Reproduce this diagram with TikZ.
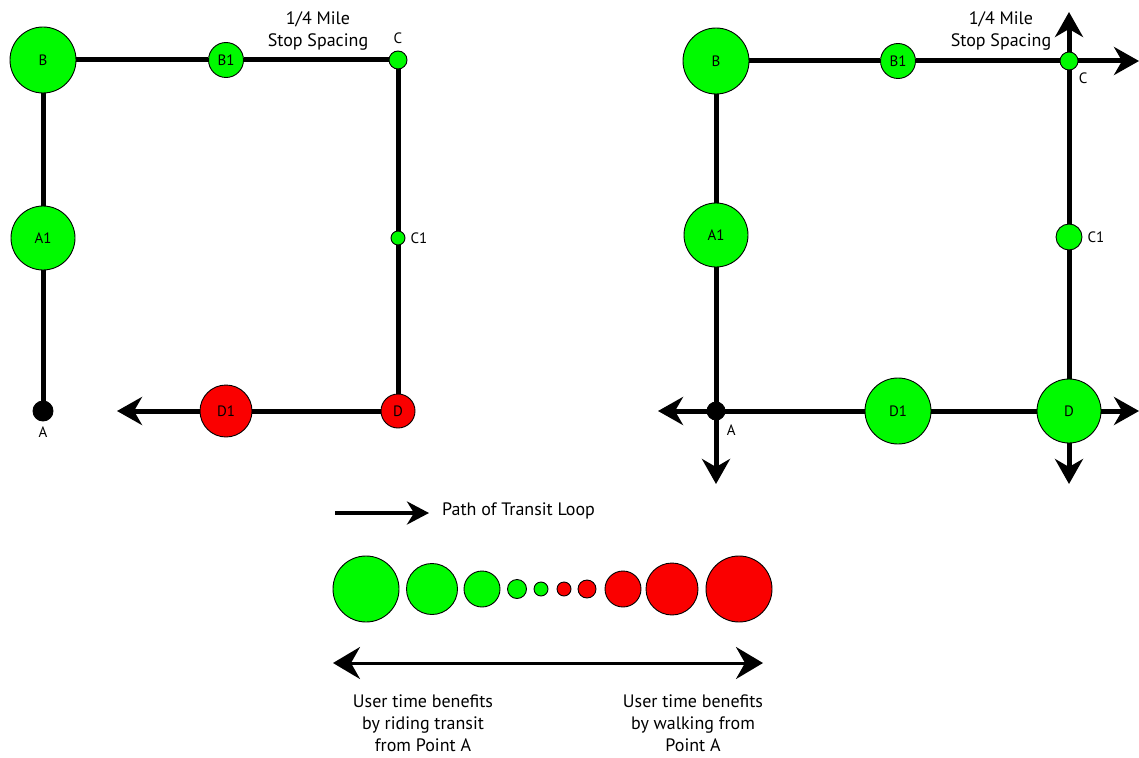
\documentclass[tikz,border=0pt]{standalone}
\usepackage{fontspec}
\setmainfont{PT Sans}
\usetikzlibrary{arrows.meta,positioning}
\definecolor{stopgreen}{RGB}{0,250,0}
\definecolor{stopred}{RGB}{250,0,0}
\tikzset{
  busstop/.style={circle,draw=black,line width=0.9pt,inner sep=0pt,minimum size=#1,
    font=\fontsize{15}{17}\selectfont},
  route/.style={line width=5pt},
  loop/.style={route,-{Stealth[length=25pt,width=28pt,inset=8pt]}},
  lbl/.style={font=\fontsize{15}{17}\selectfont,inner sep=1pt},
  note/.style={font=\fontsize{18}{22}\selectfont,align=center,inner sep=0pt}
}
\begin{document}
\begin{tikzpicture}[x=1pt,y=-1pt]
\useasboundingbox (0,0) rectangle (1139,757);

% left loop
\node[busstop=66pt,fill=stopgreen] (lB) at (43,60) {B};
\node[busstop=35pt,fill=stopgreen] (lB1) at (226,60) {B1};
\node[busstop=18pt,fill=stopgreen] (lC) at (398,60) {};
\node[busstop=64pt,fill=stopgreen] (lA1) at (43,238) {A1};
\node[busstop=14pt,fill=stopgreen] (lC1) at (398,238) {};
\node[busstop=34pt,fill=stopred] (lD) at (398,411) {D};
\node[busstop=52pt,fill=stopred] (lD1) at (226,411) {D1};
\node[busstop=20pt,fill=black] (lA) at (43,411) {};
\coordinate (lend) at (117,411);
\node[lbl,above=6pt of lC] (lClbl) {C};
\node[lbl,right=4pt of lC1] (lC1lbl) {C1};
\node[lbl,below=4pt of lA] (lAlbl) {A};
\node[note] (lspace) at (318,31) {1/4 Mile\\Stop Spacing};
\draw[route] (lA) -- (lA1);
\draw[route] (lA1) -- (lB);
\draw[route] (lB) -- (lB1);
\draw[route] (lB1) -- (lC);
\draw[route] (lC) -- (lC1);
\draw[route] (lC1) -- (lD);
\draw[route] (lD) -- (lD1);
\draw[loop] (lD1) -- (lend);

% right grid
\node[busstop=66pt,fill=stopgreen] (rB) at (716,61) {B};
\node[busstop=35pt,fill=stopgreen] (rB1) at (898,61) {B1};
\node[busstop=18pt,fill=stopgreen] (rC) at (1069,61) {};
\node[busstop=64pt,fill=stopgreen] (rA1) at (716,235) {A1};
\node[busstop=26pt,fill=stopgreen] (rC1) at (1069,237) {};
\node[busstop=64pt,fill=stopgreen] (rD) at (1069,411) {D};
\node[busstop=66pt,fill=stopgreen] (rD1) at (898,411) {D1};
\node[busstop=18pt,fill=black] (rA) at (716,411) {};
\coordinate (rup) at (1069,12);
\coordinate (rright) at (1139,61);
\coordinate (rleft) at (658,411);
\coordinate (rdownA) at (716,484);
\coordinate (rdownD) at (1069,484);
\coordinate (rrightD) at (1139,411);
\node[lbl,below right=4pt and 2pt of rC] (rClbl) {C};
\node[lbl,right=4pt of rC1] (rC1lbl) {C1};
\node[lbl,below right=6pt and 3pt of rA] (rAlbl) {A};
\node[note] (rspace) at (1001,31) {1/4 Mile\\Stop Spacing};
\draw[route] (rA) -- (rA1);
\draw[route] (rA1) -- (rB);
\draw[route] (rB) -- (rB1);
\draw[route] (rB1) -- (rC);
\draw[route] (rC) -- (rC1);
\draw[route] (rC1) -- (rD);
\draw[route] (rD) -- (rD1);
\draw[route] (rD1) -- (rA);
\draw[loop] (rC) -- (rup);
\draw[loop] (rC) -- (rright);
\draw[loop] (rA) -- (rleft);
\draw[loop] (rA) -- (rdownA);
\draw[loop] (rD) -- (rdownD);
\draw[loop] (rD) -- (rrightD);

% legend
\coordinate (kstart) at (335,513);
\coordinate (kend) at (429,513);
\draw[line width=4pt,-{Stealth[length=22pt,width=23pt,inset=7pt]}] (kstart) -- (kend);
\node[note,anchor=west] (ktext) at (442,511) {Path of Transit Loop};
\foreach \x/\d/\c [count=\i] in {366/66/stopgreen,432/51/stopgreen,482/36/stopgreen,
  517/19/stopgreen,541/14/stopgreen,564/14/stopred,587/18/stopred,623/36/stopred,
  672/52/stopred,739/66/stopred}
  \node[busstop=\d pt,fill=\c] (s\i) at (\x,589) {};
\coordinate (kleft) at (333,663);
\coordinate (kright) at (763,663);
\draw[line width=3pt,{Stealth[length=27pt,width=32pt,inset=9pt]}-{Stealth[length=27pt,width=32pt,inset=9pt]}] (kleft) -- (kright);
\node[note] (ride) at (423,723) {User time benefits\\by riding transit\\from Point A};
\node[note] (walk) at (693,723) {User time benefits\\by walking from\\Point A};
\end{tikzpicture}
\end{document}
